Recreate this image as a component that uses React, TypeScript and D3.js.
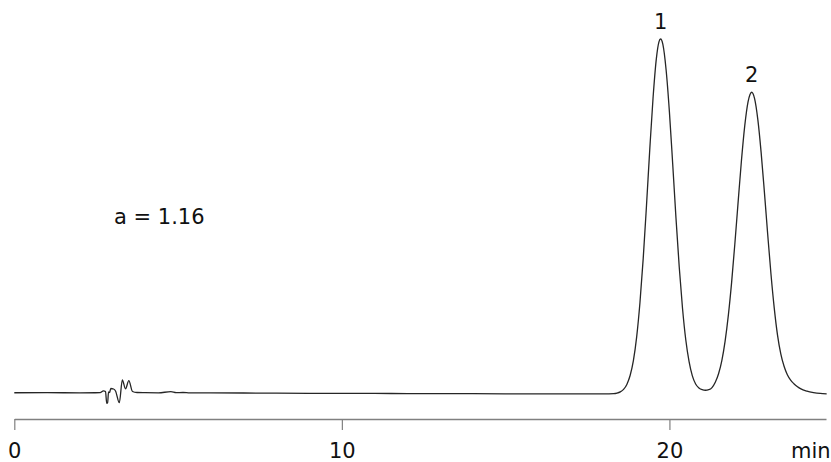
import { useEffect, useRef } from "react";
import * as d3 from "d3";

const WIDTH = 831;
const HEIGHT = 462;
const FONT = "'DejaVu Sans', Verdana, sans-serif";

// detector trace, [time (min), signal (% of peak 1)]
const baselineStart: [number, number][] = [
  [0, 0.35], [1, 0.38], [2, 0.33], [2.62, 0.37],
];
const injectionNoise: [number, number][] = [
  [2.72, 0.9], [2.785, 0.7], [2.821, -2.62], [2.849, -2.54], [2.876, 0.56],
  [2.907, 0.42], [2.947, 1.55], [3.029, 1.41], [3.09, 0.85], [3.206, -2.45],
  [3.298, 3.94], [3.395, 1.46], [3.496, 3.75], [3.609, 0.7], [3.747, 0.42],
  [3.99, 0.37],
];
const baselineMid: [number, number][] = [
  [4.4, 0.33], [4.78, 0.65], [4.94, 0.37], [5.15, 0.42], [5.36, 0.32],
  [6, 0.3], [7, 0.28], [8, 0.22], [9, 0.2], [10, 0.18], [11, 0.15],
  [12, 0.12], [13, 0.1], [14, 0.08], [15, 0.06], [16, 0.05], [17, 0.04],
  [18, 0.05], [18.3, 0.1],
];
const peak1Trace: [number, number][] = [
  [18.4, 0.25], [18.5, 0.6], [18.6, 1.3], [18.7, 2.7], [18.8, 5.2],
  [18.9, 9.4], [19.0, 16.1], [19.1, 25.7], [19.2, 38.2], [19.3, 53.1],
  [19.4, 68.9], [19.5, 83.4], [19.6, 94.4], [19.68, 99.2], [19.73, 100],
  [19.8, 98.5], [19.9, 91.2], [20.0, 79.4], [20.1, 64.8], [20.2, 49.6],
  [20.3, 35.7], [20.4, 24.1], [20.5, 15.2], [20.6, 9.1], [20.7, 5.1],
  [20.8, 2.8], [20.9, 1.7],
];
const peak2Trace: [number, number][] = [
  [21.0, 1.2], [21.1, 1.05], [21.2, 1.2], [21.3, 1.8], [21.4, 3.3],
  [21.5, 5.7], [21.6, 9.4], [21.7, 14.9], [21.8, 22.3], [21.9, 31.6],
  [22.0, 42.6], [22.1, 54.4], [22.2, 65.9], [22.3, 75.6], [22.4, 82.3],
  [22.46, 84.4], [22.51, 85], [22.6, 83.2], [22.7, 77.2], [22.8, 68.0],
  [22.9, 56.8], [23.0, 45.0], [23.1, 33.8], [23.2, 24.2], [23.3, 16.6],
  [23.4, 11.3], [23.5, 7.8], [23.6, 5.4], [23.7, 3.9], [23.8, 2.9],
  [23.9, 2.1], [24.0, 1.5], [24.2, 0.8], [24.4, 0.4], [24.6, 0.15],
  [24.8, 0.05],
];

const peakLabels = ["1", "2"];
const peakTimes = [19.73, 22.51];
const peakHeights = [100, 85];
const tickValues = [0, 10, 20];
const axisUnit = "min";
const selectivity = "a = 1.16";

const trace = [
  ...baselineStart,
  ...injectionNoise,
  ...baselineMid,
  ...peak1Trace,
  ...peak2Trace,
];

const x = d3.scaleLinear().domain([0, 24.78]).range([14.3, 826]);
const y = d3.scaleLinear().domain([0, 100]).range([394, 39]);
const AXIS_Y = 419;

export default function App() {
  const svgRef = useRef<SVGSVGElement>(null);

  useEffect(() => {
    const svg = d3.select(svgRef.current);
    svg.selectAll("*").remove();

    const axis = d3
      .axisBottom(x)
      .tickValues(tickValues)
      .tickSize(11)
      .tickSizeOuter(0)
      .tickFormat((d) => String(d));

    const g = svg
      .append("g")
      .attr("transform", `translate(0,${AXIS_Y})`)
      .call(axis);
    g.select(".domain").attr("stroke", "#808080").attr("stroke-width", 1.5);
    g.selectAll(".tick line").attr("stroke", "#808080").attr("stroke-width", 1.2);
    g.selectAll(".tick text")
      .attr("dy", null)
      .attr("y", 39)
      .attr("fill", "#111")
      .style("font-family", FONT)
      .style("font-size", "21px");

    svg
      .append("text")
      .attr("x", 791)
      .attr("y", AXIS_Y + 39)
      .attr("fill", "#111")
      .style("font-family", FONT)
      .style("font-size", "21px")
      .text(axisUnit);

    const line = d3
      .line<[number, number]>()
      .x((d) => x(d[0]))
      .y((d) => y(d[1]))
      .curve(d3.curveMonotoneX);

    svg
      .append("path")
      .datum(trace)
      .attr("fill", "none")
      .attr("stroke", "#262626")
      .attr("stroke-width", 1.3)
      .attr("d", line);

    svg
      .append("g")
      .selectAll("text")
      .data(peakLabels)
      .join("text")
      .attr("x", (_, i) => x(peakTimes[i]))
      .attr("y", (_, i) => y(peakHeights[i]) - 10)
      .attr("text-anchor", "middle")
      .attr("fill", "#111")
      .style("font-family", FONT)
      .style("font-size", "21px")
      .text((d) => d);

    svg
      .append("text")
      .attr("x", 114)
      .attr("y", 224)
      .attr("fill", "#111")
      .style("font-family", FONT)
      .style("font-size", "21px")
      .style("white-space", "pre")
      .text(selectivity);
  }, []);

  return (
    <svg
      ref={svgRef}
      width={WIDTH}
      height={HEIGHT}
      style={{ position: "absolute", left: 0, top: 0, background: "#fff" }}
    />
  );
}
